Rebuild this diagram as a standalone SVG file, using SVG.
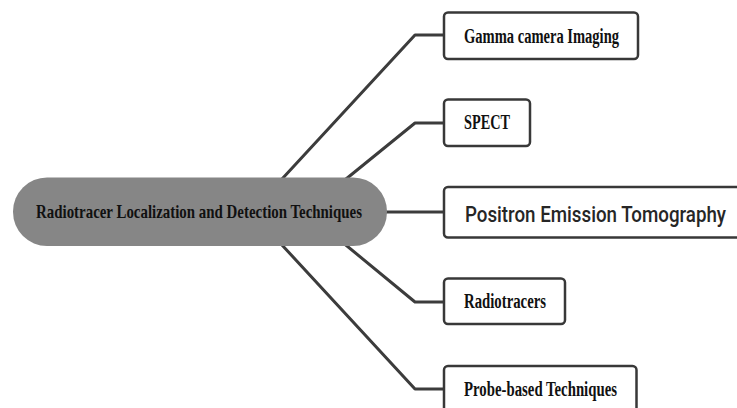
<svg xmlns="http://www.w3.org/2000/svg" width="737" height="408" viewBox="0 0 737 408">
<style>
.conn{fill:none;stroke:#3c3c3c;stroke-width:3;stroke-linejoin:round}
.box{fill:#ffffff;stroke:#383838;stroke-width:2.5}
.serif{font-family:"Liberation Serif","Times New Roman",serif;font-weight:bold;fill:#111111}
.sans{font-family:Roboto,"Liberation Sans",Arial,sans-serif;font-weight:500;fill:#262626}
</style>
<rect width="737" height="408" fill="#ffffff"/>
<g id="connectors">
<polyline class="conn" points="444,35 415,35 270,192"/>
<polyline class="conn" points="444,123 415,123 330,192"/>
<polyline class="conn" points="380,212 444,212"/>
<polyline class="conn" points="444,302 415,302 330,232"/>
<polyline class="conn" points="444,389 415,389 270,232"/>
</g>
<g id="center">
<rect x="13" y="177.5" width="374" height="68.5" rx="34" fill="#868686"/>
<text class="serif" x="36" y="218" font-size="19" textLength="326" lengthAdjust="spacingAndGlyphs">Radiotracer Localization and Detection Techniques</text>
</g>
<g id="gamma">
<rect class="box" x="444" y="12.5" width="194" height="46.5" rx="4"/>
<text class="serif" x="464" y="43" font-size="20" textLength="155" lengthAdjust="spacingAndGlyphs">Gamma camera Imaging</text>
</g>
<g id="spect">
<rect class="box" x="444" y="99.5" width="86" height="46.5" rx="4"/>
<text class="serif" x="464" y="129" font-size="20" textLength="46" lengthAdjust="spacingAndGlyphs">SPECT</text>
</g>
<g id="pet">
<rect class="box" x="444" y="187" width="300" height="50.5" rx="4"/>
<text class="sans" x="465" y="222" font-size="22" textLength="261" lengthAdjust="spacingAndGlyphs">Positron Emission Tomography</text>
</g>
<g id="radiotracers">
<rect class="box" x="444" y="278.5" width="121" height="45.5" rx="4"/>
<text class="serif" x="464" y="308" font-size="20" textLength="82" lengthAdjust="spacingAndGlyphs">Radiotracers</text>
</g>
<g id="probe">
<rect class="box" x="444" y="366" width="192.5" height="50" rx="4"/>
<text class="serif" x="464" y="396" font-size="20" textLength="153" lengthAdjust="spacingAndGlyphs">Probe-based Techniques</text>
</g>
</svg>
